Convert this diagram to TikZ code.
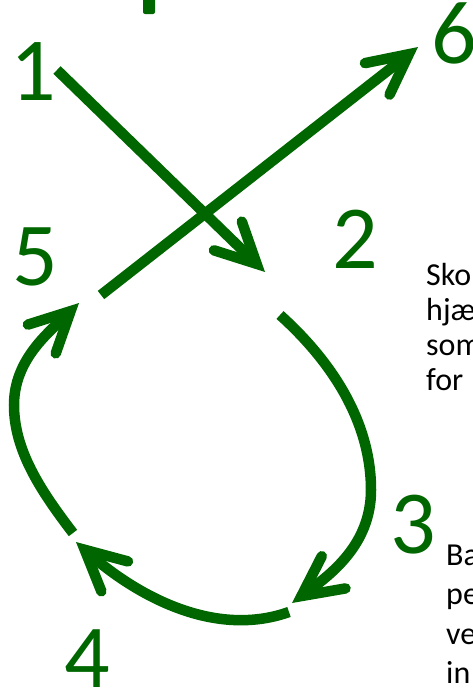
\documentclass[tikz,border=0pt]{standalone}
\usepackage{fontspec}
\setmainfont{Carlito}
\usetikzlibrary{arrows.meta}
\definecolor{leafgreen}{RGB}{0,102,0}
\tikzset{
  num/.style={text=leafgreen, font=\fontsize{90}{90}\selectfont, inner sep=0pt, anchor=base},
  note/.style={font=\fontsize{32}{35}\selectfont, inner sep=0pt, anchor=base west, align=left},
  flow/.style={draw=leafgreen, line width=10.5pt,
    -{Straight Barb[length=40pt,width=40pt,line cap=round,line join=miter]}},
}

\begin{document}
\begin{tikzpicture}[x=1pt,y=-1pt]
  \useasboundingbox (0,0) rectangle (473,688);
  \clip (0,0) rectangle (473,688);
  % Step numbers
  \node[num] (n1) at (33.5,100) {1};
  \node[num] (n2) at (355.5,268) {2};
  \node[num] (n3) at (413.5,553) {3};
  \node[num] (n4) at (87,687) {4};
  \node[num] (n5) at (35,285) {5};
  \node[num] (n6) at (454.5,63) {6};
  % Mark at the top edge
  \fill[leafgreen, rounded corners=2pt] (143,-6) rectangle (155,14);
  % Arrow ends
  \coordinate (a1) at (57,70);
  \coordinate (b2) at (265,272);
  \coordinate (a2) at (280,315);
  \coordinate (m3) at (371,490);
  \coordinate (b3) at (292,603);
  \coordinate (a3) at (289,612);
  \coordinate (b4) at (76,542);
  \coordinate (a4) at (73,533);
  \coordinate (m5) at (14,405);
  \coordinate (b5) at (79,303);
  \coordinate (a5) at (101,295);
  \coordinate (b6) at (418,47);
  % Straight arrows
  \draw[flow] (a1) -- (b2);
  \draw[flow] (a5) -- (b6);
  % Round arrows
  \draw[flow] (a2) .. controls (330,360) and (371,420) .. (m3)
    .. controls (371,545) and (330,575) .. (b3);
  \draw[flow] (a3) .. controls (210,640) and (130,590) .. (b4);
  \draw[flow] (a4) .. controls (40,490) and (14,450) .. (m5)
    .. controls (14,360) and (48,333) .. (b5);
  % Side notes (anchored at the last line)
  \node[note] (t1) at (426,390) {Sko\\hjæ\\som\\for};
  \node[note, font=\fontsize{32}{39.5}\selectfont] (t2) at (446,683.5) {Ba\\pe\\ve\\in};
\end{tikzpicture}
\end{document}
